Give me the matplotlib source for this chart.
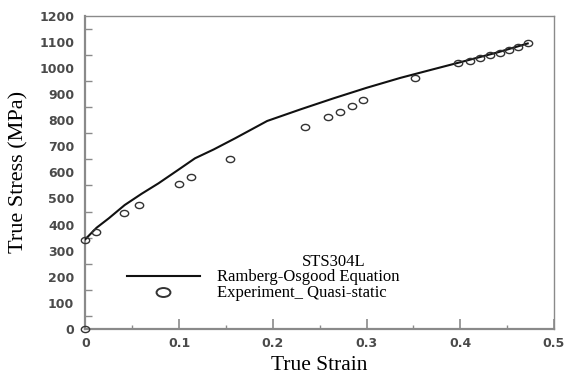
import matplotlib
matplotlib.use("Agg")
import matplotlib.pyplot as plt
from matplotlib.path import Path
from matplotlib.transforms import Affine2D
from matplotlib.lines import Line2D
from matplotlib.ticker import MultipleLocator, FixedLocator

# Ramberg-Osgood fit
strain_ro = [0, 0.012, 0.025, 0.042, 0.06, 0.078, 0.098, 0.117, 0.137, 0.16,
             0.194, 0.23, 0.265, 0.3, 0.336, 0.37, 0.4, 0.44, 0.472]
stress_ro = [344, 388, 424, 475, 518, 558, 607, 654, 688, 731,
             797, 842, 884, 924, 962, 994, 1022, 1060, 1094]

# Quasi-static experiment
strain_exp = [0, 0, 0.011, 0.041, 0.057, 0.100, 0.113, 0.154, 0.234, 0.259, 0.272,
              0.284, 0.296, 0.352, 0.398, 0.410, 0.421, 0.432, 0.442, 0.452, 0.462, 0.472]
stress_exp = [0, 342, 373, 443, 475, 557, 581, 651, 774, 813, 833,
              856, 877, 963, 1018, 1027, 1038, 1050, 1059, 1070, 1082, 1096]

x_ticks = [0, 0.1, 0.2, 0.3, 0.4, 0.5]
x_tick_labels = ["0", "0.1", "0.2", "0.3", "0.4", "0.5"]
y_ticks = list(range(0, 1201, 100))
y_tick_labels = [str(v) for v in y_ticks]

series_labels = ["Ramberg-Osgood Equation", "Experiment_ Quasi-static"]
material = "STS304L"

serif = ["Liberation Serif", "DejaVu Serif"]
tick_font = {"family": "DejaVu Sans", "weight": "bold", "size": 9}
grey = "#8a8a8a"

# slightly wide open ellipse marker
ellipse = Path.unit_circle().transformed(Affine2D().scale(1.35, 1.0))
ellipse_legend = Path.unit_circle().transformed(Affine2D().scale(1.55, 1.0))

fig = plt.figure(figsize=(5.67, 3.76), dpi=100)
ax = fig.add_axes([0.1505, 0.125, 0.8265, 0.833])

ax.plot(strain_ro, stress_ro, color="#111111", lw=1.5, zorder=3)
ax.plot(strain_exp, stress_exp, linestyle="none", marker=ellipse, markersize=6,
        markerfacecolor="none", markeredgecolor="#333333", markeredgewidth=1.0,
        clip_on=False, zorder=4)

ax.set_xlim(0, 0.5)
ax.set_ylim(0, 1200)

for s in ax.spines.values():
    s.set_color(grey)
    s.set_linewidth(1.0)
ax.spines["left"].set_linewidth(1.6)
ax.spines["bottom"].set_linewidth(1.6)

ax.xaxis.set_major_locator(FixedLocator(x_ticks))
ax.set_xticklabels(x_tick_labels, fontdict=tick_font, color="#4a4a4a")
ax.xaxis.set_minor_locator(MultipleLocator(0.05))
ax.yaxis.set_major_locator(FixedLocator(y_ticks))
ax.set_yticklabels(y_tick_labels, fontdict=tick_font, color="#4a4a4a")
ax.yaxis.set_minor_locator(FixedLocator([v + 50 for v in y_ticks[:-1]]))

ax.tick_params(axis="x", which="major", direction="in", length=7, width=1.2,
               color=grey, pad=6)
ax.tick_params(axis="x", which="minor", direction="in", length=3, width=1.0,
               color=grey)
ax.tick_params(axis="y", which="major", direction="in", length=0, pad=8)
ax.tick_params(axis="y", which="minor", direction="in", length=5, width=1.0,
               color=grey)

ax.set_xlabel("True Strain", fontfamily=serif, fontsize=15.5, labelpad=4)
ax.set_ylabel("True Stress (MPa)", fontfamily=serif, fontsize=16, labelpad=8)

handles = [
    Line2D([], [], color="#111111", lw=1.5),
    Line2D([], [], linestyle="none", marker=ellipse_legend, markersize=10,
           markerfacecolor="none", markeredgecolor="#333333", markeredgewidth=1.4),
]
leg = ax.legend(handles, series_labels, loc="upper left",
                bbox_to_anchor=(0.088, 0.19), frameon=False,
                prop={"family": serif, "size": 12},
                handlelength=4.4, handletextpad=1.05, labelspacing=0.0,
                borderpad=0.0, borderaxespad=0.0)
ax.text(0.529, 0.214, material, transform=ax.transAxes, ha="center", va="center",
        fontfamily=serif, fontsize=12)

fig.savefig("out.png", dpi=100)
